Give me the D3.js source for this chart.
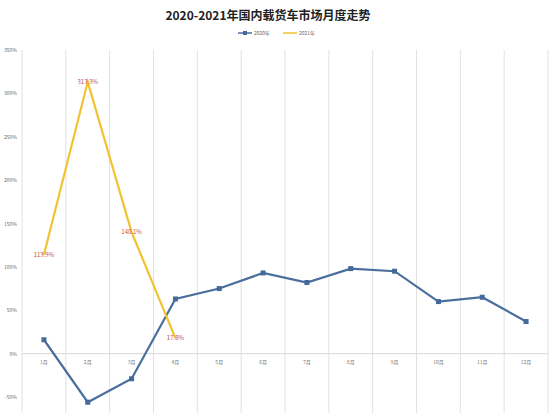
<!DOCTYPE html>
<html><head><meta charset="utf-8">
<script src="https://cdn.jsdelivr.net/npm/d3@7"></script>
<style>body{margin:0;background:#fff;font-family:"Noto Sans CJK SC",sans-serif}</style>
</head><body><div id="chart"></div>
<script>
const months = ['1月','2月','3月','4月','5月','6月','7月','8月','9月','10月','11月','12月'];
const v2020 = [16, -56, -29, 63, 75, 93, 82, 98, 95, 60, 65, 37];
const v2021 = [113.9, 313.3, 140.1, 17.8];
const labels2021 = ['113.9%', '313.3%', '140.1%', '17.8%'];
const yTicks = [-50, 0, 50, 100, 150, 200, 250, 300, 350];

const W = 550, H = 413;
const m = {top: 50, right: 2, bottom: 16, left: 22};
const svg = d3.select('#chart').append('svg').attr('width', W).attr('height', H);

const x = d3.scaleBand().domain(months).range([m.left, W - m.right]);
const y = d3.scaleLinear().domain([-50, 350]).range([397, 50]);

// vertical gridlines at category boundaries
svg.append('g').selectAll('line').data(months.concat(['end'])).join('line')
  .attr('x1', (d, i) => m.left + i * x.step()).attr('x2', (d, i) => m.left + i * x.step())
  .attr('y1', y(350)).attr('y2', H)
  .attr('stroke', '#d9d9d9').attr('stroke-width', 0.8);

// zero line
svg.append('line').attr('x1', m.left).attr('x2', W - m.right)
  .attr('y1', y(0)).attr('y2', y(0)).attr('stroke', '#d9d9d9');

// y labels
svg.append('g').selectAll('text').data(yTicks).join('text')
  .attr('x', 17).attr('y', d => y(d) + 2).attr('text-anchor', 'end')
  .attr('font-size', 5).attr('fill', '#666').text(d => d + '%');

// x labels
svg.append('g').selectAll('text').data(months).join('text')
  .attr('x', d => x(d) + x.bandwidth() / 2).attr('y', y(0) + 10)
  .attr('text-anchor', 'middle').attr('font-size', 5).attr('fill', '#777').text(d => d);

const cx = i => x(months[i]) + x.bandwidth() / 2;
const line = d3.line().x((d, i) => cx(i)).y(d => y(d));

svg.append('path').datum(v2020).attr('d', line).attr('fill', 'none')
  .attr('stroke', '#4a6f9c').attr('stroke-width', 2.2);
svg.append('g').selectAll('rect').data(v2020).join('rect')
  .attr('x', (d, i) => cx(i) - 2.5).attr('y', d => y(d) - 2.5)
  .attr('width', 5).attr('height', 5).attr('fill', '#44699a');

svg.append('path').datum(v2021).attr('d', line).attr('fill', 'none')
  .attr('stroke', '#f2c230').attr('stroke-width', 2.2);
svg.append('g').selectAll('text').data(v2021).join('text')
  .attr('x', (d, i) => cx(i)).attr('y', d => y(d) + 2)
  .attr('text-anchor', 'middle').attr('font-size', 6).attr('fill', '#c0504d')
  .text((d, i) => labels2021[i]);

// title
svg.append('text').attr('x', 268).attr('y', 20).attr('text-anchor', 'middle')
  .attr('font-size', 12).attr('font-weight', 'bold').attr('fill', '#222')
  .text('2020-2021年国内载货车市场月度走势');

// legend
const lg = svg.append('g').attr('font-size', 5).attr('fill', '#666');
lg.append('line').attr('x1', 238).attr('x2', 252).attr('y1', 33).attr('y2', 33).attr('stroke', '#4a6f9c').attr('stroke-width', 1.5);
lg.append('rect').attr('x', 243).attr('y', 31).attr('width', 4).attr('height', 4).attr('fill', '#44699a');
lg.append('text').attr('x', 254).attr('y', 35).text('2020年');
lg.append('line').attr('x1', 283).attr('x2', 297).attr('y1', 33).attr('y2', 33).attr('stroke', '#f2c230').attr('stroke-width', 1.5);
lg.append('text').attr('x', 299).attr('y', 35).text('2021年');
</script></body></html>
